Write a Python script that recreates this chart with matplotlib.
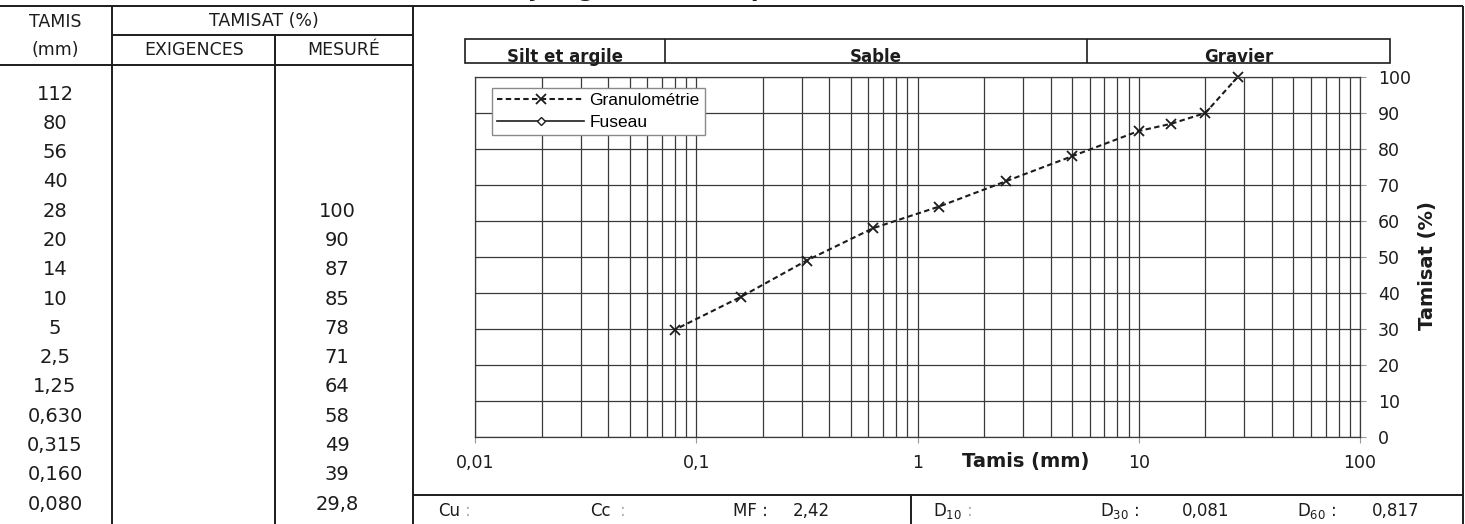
import matplotlib
matplotlib.use('Agg')
import matplotlib.pyplot as plt
from matplotlib.patches import Rectangle
from matplotlib.ticker import FixedLocator, LogLocator, NullFormatter
import numpy as np

tamis_labels = ['112', '80', '56', '40', '28', '20', '14', '10', '5', '2,5', '1,25',
                '0,630', '0,315', '0,160', '0,080']
tamis_mm = [112, 80, 56, 40, 28, 20, 14, 10, 5, 2.5, 1.25, 0.630, 0.315, 0.160, 0.080]
mesure = [None, None, None, None, 100, 90, 87, 85, 78, 71, 64, 58, 49, 39, 29.8]
exigences = [None] * 15
classes = ['Silt et argile', 'Sable', 'Gravier']
x_ticks = [0.01, 0.1, 1, 10, 100]
y_ticks = list(range(0, 101, 10))
mf = '2,42'
d30 = '0,081'
d60 = '0,817'

W, H = 1465, 524
INK = '#1c1c1c'
GRID = '#3a3a3a'

plt.rcParams['font.family'] = 'DejaVu Sans'
plt.rcParams['mathtext.default'] = 'regular'


def fr(v):
    return ('%g' % v).replace('.', ',')


fig = plt.figure(figsize=(W / 100, H / 100), dpi=100)
fig.patch.set_facecolor('white')

# overlay in pixel coords for the table / frame / free texts
bg = fig.add_axes([0, 0, 1, 1])
bg.set_xlim(0, W)
bg.set_ylim(H, 0)
bg.axis('off')
bg.set_zorder(0)

lw_frame = 1.4
bg.hlines(6, 0, 1463, color=INK, lw=lw_frame)
bg.vlines(112, 6, H, color=INK, lw=lw_frame)
bg.hlines(35, 112, 413, color=INK, lw=lw_frame)
bg.vlines(275, 35, H, color=INK, lw=lw_frame)
bg.hlines(65, 0, 413, color=INK, lw=lw_frame)
bg.vlines(413, 6, H, color=INK, lw=lw_frame)
bg.vlines(1463, 6, H, color=INK, lw=lw_frame)
bg.hlines(495, 413, 1463, color=INK, lw=lw_frame)
bg.vlines(911, 495, H, color=INK, lw=lw_frame)

# table header
hdr = dict(fontsize=12.5, color=INK, ha='center', va='center')
bg.text(55, 22, 'TAMIS', **hdr)
bg.text(55, 50, '(mm)', **hdr)
bg.text(264, 21, 'TAMISAT (%)', **hdr)
bg.text(194, 50, 'EXIGENCES', **hdr)
bg.text(344, 50, 'MESURÉ', **hdr)

# table body
row0, drow = 94, 29.3
for i, lab in enumerate(tamis_labels):
    y = row0 + i * drow
    bg.text(55, y, lab, fontsize=14, color=INK, ha='center', va='center')
    if exigences[i] is not None:
        bg.text(194, y, fr(exigences[i]), fontsize=14, color=INK, ha='center', va='center')
    if mesure[i] is not None:
        bg.text(337, y, fr(mesure[i]), fontsize=14, color=INK, ha='center', va='center')

# title (cut by the top of the scan, only the descenders show)
bg.text(472, -3, 'Analyse granulométrique (BNQ 2560-040)', fontsize=16, fontweight='bold',
        color=INK, ha='left', va='baseline')

# soil classes band
band_x = [465, 665, 1087, 1390]
band_top, band_bot = 38.5, 63
bg.add_patch(Rectangle((band_x[0], band_top), band_x[-1] - band_x[0], band_bot - band_top,
                       fill=False, ec=INK, lw=1.2))
for k, name in enumerate(classes):
    if k > 0:
        bg.vlines(band_x[k], band_top, band_bot, color=INK, lw=1.2)
    bg.text((band_x[k] + band_x[k + 1]) / 2, band_bot - 1.5, name, fontsize=12,
            fontweight='bold', color=INK, ha='center', va='baseline')

# axis titles
bg.text(1026, 462, 'Tamis (mm)', fontsize=14, fontweight='bold', color=INK,
        ha='center', va='center')
bg.text(1428, 266, 'Tamisat (%)', fontsize=14, fontweight='bold', color=INK,
        ha='center', va='center', rotation=90)

# bottom row
foot = dict(fontsize=12, color=INK, ha='left', va='center')
fy = 511
bg.text(438, fy, 'Cu', **foot)
bg.text(465, fy, ':', fontsize=12, color='#b0b0b0', ha='left', va='center')
bg.text(590, fy, 'Cc', **foot)
bg.text(620, fy, ':', fontsize=12, color='#b0b0b0', ha='left', va='center')
bg.text(733, fy, 'MF :', **foot)
bg.text(793, fy, mf, **foot)
bg.text(933, fy, 'D$_{10}$', **foot)
bg.text(967, fy, ':', fontsize=12, color='#b0b0b0', ha='left', va='center')
bg.text(1100, fy, 'D$_{30}$ :', **foot)
bg.text(1182, fy, d30, **foot)
bg.text(1297, fy, 'D$_{60}$ :', **foot)
bg.text(1372, fy, d60, **foot)

# grading chart
ax = fig.add_axes([475 / W, 1 - 437 / H, 885 / W, 360 / H])
ax.set_zorder(2)
ax.patch.set_alpha(0)
ax.set_xscale('log')
ax.set_xlim(x_ticks[0], x_ticks[-1])
ax.set_ylim(y_ticks[0], y_ticks[-1])

ax.xaxis.set_major_locator(FixedLocator(x_ticks))
ax.xaxis.set_minor_locator(LogLocator(base=10, subs=np.arange(2, 10)))
ax.xaxis.set_minor_formatter(NullFormatter())
ax.set_xticklabels([fr(t) for t in x_ticks])
ax.yaxis.set_major_locator(FixedLocator(y_ticks))
ax.yaxis.tick_right()

ax.grid(which='both', axis='x', color=GRID, lw=0.9)
ax.grid(which='major', axis='y', color=GRID, lw=0.9)
for s in ax.spines.values():
    s.set_color(GRID)
    s.set_linewidth(0.9)
ax.tick_params(axis='x', which='major', direction='out', length=4, width=0.8,
               color='#999999', pad=8, labelsize=12.5, labelcolor=INK)
ax.tick_params(axis='x', which='minor', length=0)
ax.tick_params(axis='y', which='major', direction='out', length=4, width=0.8,
               color='#999999', pad=9, labelsize=12.5, labelcolor=INK)

gx = [t for t, m in zip(tamis_mm, mesure) if m is not None]
gy = [m for m in mesure if m is not None]
ax.plot(gx, gy, linestyle=(0, (2.6, 1.6)), lw=1.5, color=INK, marker='x', ms=7,
        mew=1.3, label='Granulométrie', clip_on=False)

fx = [t for t, e in zip(tamis_mm, exigences) if e is not None]
fyv = [e for e in exigences if e is not None]
ax.plot(fx, fyv, linestyle='-', lw=1.2, color=INK, marker='D', ms=4.5, mfc='white',
        mew=1.0, label='Fuseau')

leg = ax.legend(loc='upper left', bbox_to_anchor=(492 / W, 1 - 88 / H),
                bbox_transform=fig.transFigure, prop={'family': 'Liberation Sans', 'size': 12.5},
                frameon=True, fancybox=False, edgecolor='#8a8a8a', framealpha=1,
                borderpad=0.3, handlelength=5.0, handletextpad=0.3, labelspacing=0.35,
                borderaxespad=0)
leg.get_frame().set_linewidth(1.0)

fig.savefig('out.png', dpi=100, facecolor='white')
